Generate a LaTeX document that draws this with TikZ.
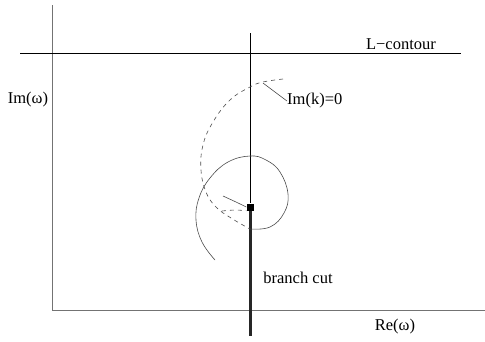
\documentclass[tikz,border=0pt]{standalone}
\usepackage{fontspec}
\setmainfont{Liberation Serif}
\usetikzlibrary{positioning}
\begin{document}
\begin{tikzpicture}[
    x=1pt, y=-1pt,
    axis/.style={draw=black!55, line width=0.8pt},
    contour/.style={draw=black, line width=0.9pt},
    curve/.style={draw=black!70, line width=0.6pt},
    dashcurve/.style={curve, dash pattern=on 4pt off 4pt},
    cut/.style={draw=black!85, line width=3pt},
    branchpt/.style={fill=black, minimum size=7pt, inner sep=0pt},
    lbl/.style={font=\fontsize{16.5}{20}\selectfont, inner sep=0pt}
]
    \useasboundingbox (0,0) rectangle (485,341);
    \coordinate (ytop) at (52,5);
    \coordinate (orig) at (52,310);
    \coordinate (xend) at (485,310);
    \coordinate (lwest) at (20,53);
    \coordinate (least) at (461,53);
    \coordinate (vtop) at (250,33);
    \coordinate (cutend) at (250,336);
    \coordinate (onim) at (263,83);
    \node (bp) [branchpt] at (250,207) {};
    \node (lc) [lbl] at (401,44) {L−contour};
    \node (imw) [lbl] at (28,100) {Im(ω)};
    \node (imk) [lbl, anchor=west] at (287,101) {Im(k)=0};
    \node (bc) [lbl] at (298,278) {branch cut};
    \node (rew) [lbl] at (395,327) {Re(ω)};
    \draw [axis] (ytop) -- (orig) -- (xend);
    \draw [contour] (lwest) -- (least);
    \draw [contour] (vtop) -- (bp.north);
    \draw [cut] (bp.south) -- (cutend);
    \draw [dashcurve] plot[smooth, tension=0.7] coordinates {(283,79) (263,82) (250,87) (230,100) (213,122) (203,145) (201,170) (206,192) (216,207) (231,218) (250,229)};
    \draw [curve] plot[smooth, tension=0.7] coordinates {(250,229) (270,227) (284,213) (288,194) (280,172) (266,160) (250,156) (228,162) (210,178) (199,198) (196,220) (202,242) (215,260)};
    \draw [curve] plot[smooth] coordinates {(223,196) (236,202) (bp.west)};
    \draw [dashcurve] plot[smooth] coordinates {(222,211) (235,210) (bp.south west)};
    \draw [curve] (onim) -- (imk.west);
\end{tikzpicture}
\end{document}
